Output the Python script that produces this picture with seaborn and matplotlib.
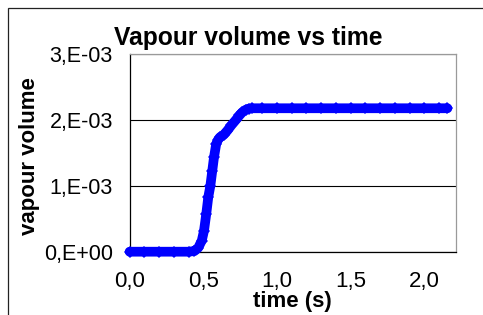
import matplotlib.pyplot as plt
import seaborn as sns
from matplotlib.patches import Rectangle

# values
time_s = [0.0, 0.1, 0.2, 0.3, 0.4, 0.44, 0.466, 0.49, 0.505, 0.52, 0.534,
          0.548, 0.561, 0.573, 0.588, 0.60, 0.613, 0.64, 0.663, 0.69, 0.72,
          0.745, 0.765, 0.79, 0.81, 0.83, 0.9, 1.0, 1.1, 1.2, 1.3, 1.4, 1.5,
          1.6, 1.7, 1.8, 1.9, 2.0, 2.1, 2.157]
vapour_volume = [0.0, 0.0, 0.0, 0.0, 0.0, 0.00001, 0.00006, 0.00017, 0.00032,
                 0.00057, 0.00083, 0.00100, 0.00123, 0.00144, 0.00164, 0.00170,
                 0.00174, 0.00178, 0.00184, 0.00192, 0.00200, 0.00207, 0.00212,
                 0.00216, 0.002175, 0.00218, 0.00218, 0.00218, 0.00218, 0.00218,
                 0.00218, 0.00218, 0.00218, 0.00218, 0.00218, 0.00218, 0.00218,
                 0.00218, 0.00218, 0.00218]

x_ticks = [0.0, 0.5, 1.0, 1.5, 2.0]
x_tick_labels = ['0,0', '0,5', '1,0', '1,5', '2,0']
y_ticks = [0.0, 0.001, 0.002, 0.003]
y_tick_labels = ['0,E+00', '1,E-03', '2,E-03', '3,E-03']

sns.set_style('white')
plt.rcParams['font.family'] = ['Liberation Sans', 'DejaVu Sans']
plt.rcParams['text.color'] = 'black'
plt.rcParams['axes.labelcolor'] = 'black'
plt.rcParams['xtick.color'] = 'black'
plt.rcParams['ytick.color'] = 'black'

fig = plt.figure(figsize=(4.83, 3.15), dpi=100)
ax = fig.add_axes([129.6 / 483, 1 - 251.7 / 315, 326.4 / 483, 197.4 / 315])

sns.lineplot(x=time_s, y=vapour_volume, ax=ax, color='#0000FF', linewidth=7,
             marker='D', markersize=6.2, markeredgewidth=0, sort=False,
             estimator=None, clip_on=False, zorder=5)

ax.set_xlim(0, 2.215)
ax.set_ylim(0, 0.003)
ax.set_xticks(x_ticks)
ax.set_xticklabels(x_tick_labels, fontsize=16)
ax.set_yticks(y_ticks)
ax.set_yticklabels(y_tick_labels, fontsize=15.5)
ax.tick_params(axis='x', direction='out', length=4.3, width=0.8, pad=9.5)
ax.tick_params(axis='y', direction='out', length=3.6, width=0.8, pad=8.4)
ax.yaxis.grid(True, color='black', linewidth=0.8)
ax.xaxis.grid(False)

for side in ['left', 'bottom']:
    ax.spines[side].set_color('black')
    ax.spines[side].set_linewidth(0.9)
for side in ['top', 'right']:
    ax.spines[side].set_color('#9a9a9a')
    ax.spines[side].set_linewidth(0.9)

ax.set_xlabel('time (s)', fontsize=16, fontweight='bold')
ax.xaxis.set_label_coords(0.5, -0.2)
ax.set_ylabel('vapour volume', fontsize=16, fontweight='bold')
ax.yaxis.set_label_coords(-0.275, 0.487)

fig.text(248.5 / 483, 1 - 45 / 315, 'Vapour volume vs time', ha='center',
         va='baseline', fontsize=17.7, fontweight='bold')

# chart area border, running off the right and bottom edges
fig.add_artist(Rectangle((8.3 / 483, -0.1), 2, 1.1 - 8.3 / 315,
                         transform=fig.transFigure, fill=False,
                         edgecolor='#222222', linewidth=0.9))

fig.savefig('out.png', dpi=100)
